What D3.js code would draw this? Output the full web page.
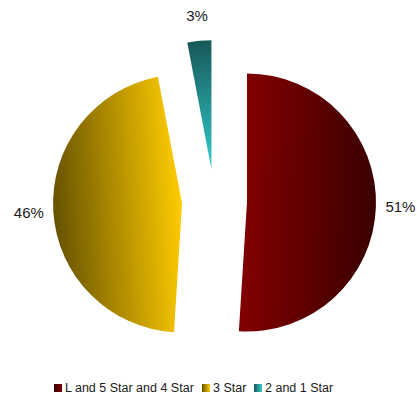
<!DOCTYPE html>
<html><head><meta charset="utf-8">
<script src="https://cdn.jsdelivr.net/npm/d3@7"></script>
<style>body{margin:0;background:#fff}svg{display:block}text{font-family:"Liberation Sans",Arial,sans-serif;fill:#1a1a1a}</style>
</head><body><div id="chart"></div>
<script>
const categories = ["L and 5 Star and 4 Star", "3 Star", "2 and 1 Star"];
const values = [51, 46, 3];
const labels = ["51%", "46%", "3%"];
const lightColors = ["#800000", "#ffcc00", "#33cccc"];
const darkColors = ["#3a0000", "#665200", "#175858"];

const W = 417, H = 394;
const cx = 214.5, cy = 201.5, R = 129, explode = 32.5, labelR = 186;

const svg = d3.select("#chart").append("svg").attr("width", W).attr("height", H);
const defs = svg.append("defs");

const pie = d3.pie().sort(null).value(d => d)(values);
const arc = d3.arc().innerRadius(0).outerRadius(R);

pie.forEach((p, i) => {
  const mid = (p.startAngle + p.endAngle) / 2;
  const dx = Math.sin(mid), dy = -Math.cos(mid);
  const ox = cx + explode * dx, oy = cy + explode * dy;
  const g = defs.append("linearGradient").attr("id", "g" + i)
    .attr("gradientUnits", "userSpaceOnUse")
    .attr("x1", 0).attr("y1", 0)
    .attr("x2", R * dx).attr("y2", R * dy);
  g.append("stop").attr("offset", "0%").attr("stop-color", lightColors[i]);
  g.append("stop").attr("offset", "100%").attr("stop-color", darkColors[i]);
  svg.append("path").attr("d", arc(p)).attr("transform", `translate(${ox},${oy})`)
    .attr("fill", `url(#g${i})`);
  svg.append("text").attr("x", cx + labelR * dx).attr("y", cy + labelR * dy + 5)
    .attr("text-anchor", "middle").attr("font-size", "15px").text(labels[i]);
});

// legend
const lg = svg.append("g").attr("transform", "translate(54,384)");
const legX = [0, 148, 200];
categories.forEach((c, i) => {
  const gl = defs.append("linearGradient").attr("id", "lg" + i);
  gl.append("stop").attr("offset", "0%").attr("stop-color", darkColors[i]);
  gl.append("stop").attr("offset", "100%").attr("stop-color", lightColors[i]);
  lg.append("rect").attr("x", legX[i]).attr("y", 0).attr("width", 8).attr("height", 8).attr("fill", `url(#lg${i})`);
  lg.append("text").attr("x", legX[i] + 11).attr("y", 8).attr("font-size", "12.5px").text(c);
});
</script></body></html>
